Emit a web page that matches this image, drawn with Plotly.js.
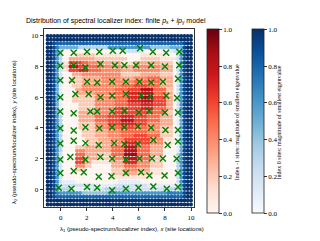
<!DOCTYPE html>
<html><head><meta charset="utf-8">
<script src="https://cdn.plot.ly/plotly-3.0.1.min.js"></script>
<style>html,body{margin:0;padding:0;background:#fff}#chart{width:320px;height:241px}</style>
</head><body><div id="chart"></div>
<script>
// grid coordinates of the localizer sample points (both axes)
const gridCoords = [-1,-0.75,-0.5,-0.25,0,0.25,0.5,0.75,1,1.25,1.5,1.75,2,2.25,2.5,2.75,3,3.25,3.5,3.75,4,4.25,4.5,4.75,5,5.25,5.5,5.75,6,6.25,6.5,6.75,7,7.25,7.5,7.75,8,8.25,8.5,8.75,9,9.25,9.5,9.75,10];
// Rows from y=10 (top) to y=-1 (bottom). Letters A..J: index 0 site, magnitude 0.1..1.0 (Blues).
// Digits 0..9: index -1 site, magnitude 0.0..0.9 (Reds); '.' = index -1, magnitude ~0.
const indexMap = [
 ["JJJJJJJJJJJJJJJJJJJJJJJJJJJJJJJJJJJJJJJJJJJJJ"],
 ["JJJJJJJJJJJJJJJJJJJJJJJJJJJJJJJJJJJJJJJJJJJJJ"],
 ["JJI","HHHHHHHHHH","HHHHHHHHHH","HHHHHHHHHH","HHHHHHHHH","IJJ"],
 ["JJI","G","EEEEEE","CCCCCCCCC","FFFFFFFFFFFFF","DDDDDD","EEEE","IJJ"],
 ["JJI","F","C","...................","BBBBBB","........","A","B","C","E","IJJ"],
 ["JJIFC","....","222222","11111111","......","11111111","...","BFIJJ"],
 ["JJIFC","..","33333333","2222222222","....","222222","11111","BFIJJ"],
 ["JJIFC","11","6666","55","4444","333333","1111","33333333","2222",".","BFIJJ"],
 ["JJIFC","22","888","666","5555","444444","3333","44444444","3333",".","BFIJJ"],
 ["JJIFB","11","666","777","5555","444444","3333","44444444","3333",".","BFIJJ"],
 ["JJIFB","...","333","444444444444","222222","333333","2222",".","BFIJJ"],
 ["JJIFB","...","222","333333","444444","3333","4444","5555","3333",".","BFIJJ"],
 ["JJIFB","..","2222","333333","444444","4444","5555","5555","3333",".","BFIJJ"],
 ["JJIEA","...","222","4444","44444444","5555","6666","5555","3333",".","BFIJJ"],
 ["JJIEA","....","33","4444","444444","5555","6666","8888","5555","22",".","BFIJJ"],
 ["JJIEA","....","333333","444444","5555","7777","8888","5555","33",".","BFIJJ"],
 ["JJIEA","...","2222222","444444","5555","7777","9999","6666","33",".","BFIJJ"],
 ["JJIEA","...","2222222","444444","5555","7777","8888","6666","33",".","BFIJJ"],
 ["JJIEA",".....","22222","444444","5555","6666","7777","6666","33",".","BFIJJ"],
 ["JJIEA",".....","22222","444444","6666","6666","7777","5555","33",".","BFIJJ"],
 ["JJIEA",".....","33333","444444","6666","6666","6666","5555","22",".","BFIJJ"],
 ["JJIFC",".....","33333","5555","6666","7777","6666","5555","3333",".","AEIJJ"],
 ["JJIFC",".....","33333","5555","6666","8888","6666","5555","3333",".","AEIJJ"],
 ["JJIFC",".....","22222","4444","6666","7777","6666","4444","3333",".","AEIJJ"],
 ["JJIFC",".....","22222","4444","5555","6666","5555","4444","2222",".","AEIJJ"],
 ["JJIFC","......","2222","3333","4444","5555","5555","4444","2222",".","AEIJJ"],
 ["JJIFC","......","2222","3333","4444","5555","6666","5555","2222",".","AEIJJ"],
 ["JJIFC",".......","2222","3333","4444","6666","6666","4444","111",".","AEIJJ"],
 ["JJIFC",".......","2222","3333","4444","7777","6666","4444","111",".","AEIJJ"],
 ["JJIFC","....","222","3333","3333","5555","8888","5555","3333","....","AEIJJ"],
 ["JJIFC","....","444","3333","3333","5555","8888","5555","3333","....","AEIJJ"],
 ["JJIFB","....","555","3333","2222","5555","9999","5555","3333","....","CFIJJ"],
 ["JJIFB","....","666","3333","2222","4444","8888","5555","2222","....","CFIJJ"],
 ["JJIFB","....","666","33","111111","3333","7777","4444","2222","....","CFIJJ"],
 ["JJIFB","....","444","22","......","3333","5555","4444","2222","....","CFIJJ"],
 ["JJIFB","....","222","........","2222","4444","3333","1111","....","CFIJJ"],
 ["JJIFB","...............","2222","3333","2222","1111","....","CFIJJ"],
 ["JJIFB","...............","111111111111","........","BFIJJ"],
 ["JJIFB","AAAA",".............","AAAAAAA","...........","BFIJJ"],
 ["JJIFB","BBBBBBBBBB","AAAAAA","BBBBBBBBBB","AAAAAAAAA","BFIJJ"],
 ["JJI","F","CCCC","AAAA","BBBBBB","CCCCCCCC","BBBBBBBBBB","CCCCC","E","IJJ"],
 ["JJI","G","FFFFFFF","DDDDDDDD","FFFFFFFFFFFFFFFFFF","GGGGG","IJJ"],
 ["JJI","HHHHHHHHHH","HHHHHHHHHH","HHHHHHHHHH","HHHHHHHHH","IJJ"],
 ["JJJJJJJJJJJJJJJJJJJJJJJJJJJJJJJJJJJJJJJJJJJJJ"],
 ["JJJJJJJJJJJJJJJJJJJJJJJJJJJJJJJJJJJJJJJJJJJJJ"]
];
// site locations (green crosses)
const siteX = [-0.03,1.0,2.02,2.97,4.0,4.76,6.09,7.07,8.09,9.1,
 -0.03,1.0,1.9,3.05,4.16,4.89,5.78,6.94,8.0,9.1,
 -0.03,0.87,2.02,2.8,3.95,5.0,6.04,6.94,7.84,9.0,
 -0.03,1.13,2.15,3.05,3.95,5.0,6.17,6.9,8.1,8.93,
 -0.03,1.0,2.28,2.8,3.95,4.9,6.0,6.8,8.0,9.0,
 -0.03,1.0,1.9,2.97,3.95,4.89,5.92,6.94,8.04,9.0,
 -0.03,1.0,1.9,2.92,4.1,4.89,5.92,7.11,8.21,9.0,
 -0.03,0.74,1.9,3.05,3.95,5.0,6.04,7.0,7.84,8.9,
 -0.03,1.0,1.77,2.92,3.9,5.0,6.17,6.81,7.97,9.0,
 -0.15,0.82,2.02,2.8,3.95,5.0,5.97,7.11,8.14,9.0];
const siteY = [8.9,8.9,8.97,8.97,9.03,9.03,9.2,8.97,8.9,8.97,
 8.05,8.09,7.94,8.16,8.09,8.09,8.09,8.09,8.0,8.09,
 7.1,7.1,7.0,6.95,7.0,7.0,7.0,6.95,7.0,7.2,
 6.0,6.2,6.2,6.0,6.1,6.2,6.1,6.05,6.1,5.95,
 5.07,4.95,5.07,5.07,5.07,5.1,5.0,5.1,5.0,5.0,
 3.97,3.82,4.04,3.97,4.04,4.04,4.08,4.0,3.86,3.86,
 2.98,3.16,3.0,2.87,3.0,2.94,2.94,3.2,2.87,3.1,
 1.93,2.1,1.93,2.1,1.98,1.93,2.0,2.0,2.0,1.98,
 1.05,1.18,1.1,0.8,0.84,1.05,1.1,0.88,0.88,1.05,
 0.09,0.02,0.13,0.09,-0.08,0.02,0.09,0.17,0.02,0.13];
const axisTicks = [0,2,4,6,8,10];
const cbTicks = [0,0.2,0.4,0.6,0.8,1.0];
const cbTickText = ['0.0','0.2','0.4','0.6','0.8','1.0'];

const redsScale = [[0,'#fff5f0'],[0.125,'#fee0d2'],[0.25,'#fcbba1'],[0.375,'#fc9272'],[0.5,'#fb6a4a'],[0.625,'#ef3b2c'],[0.75,'#cb181d'],[0.875,'#a50f15'],[1,'#67000d']];
const bluesScale = [[0,'#f7fbff'],[0.125,'#deebf7'],[0.25,'#c6dbef'],[0.375,'#9ecae1'],[0.5,'#6baed6'],[0.625,'#4292c6'],[0.75,'#2171b5'],[0.875,'#08519c'],[1,'#08306b']];

const rx=[],ry=[],rv=[],bx=[],by=[],bv=[];
indexMap.forEach((segs,r)=>{
  let row = segs.join('');
  row = (row+'.'.repeat(45)).slice(0,45);
  const y = gridCoords[44-r];
  for(let i=0;i<45;i++){
    const c=row[i], x=gridCoords[i];
    if(c>='A'&&c<='J'){bx.push(x);by.push(y);bv.push((c.charCodeAt(0)-64)/10);}
    else {rx.push(x);ry.push(y);rv.push(c==='.'?0:(c==='#'?1:(+c)/10));}
  }
});

const L=44,T=29,W=150,H=178;
const px=(p)=>(p-L)/W, py=(p)=>(T+H-p)/H;
const serif='Liberation Serif, DejaVu Serif, serif';
const sans='Liberation Sans, DejaVu Sans, sans-serif';

function cb(xpix){return {x:px(xpix),xanchor:'left',xpad:0,y:py(29.3),yanchor:'top',ypad:0,
  lenmode:'pixels',len:184,thickness:12,outlinewidth:0.8,outlinecolor:'#222',
  tickvals:cbTicks,ticktext:cbTickText,ticks:'outside',ticklen:3,tickwidth:0.8,tickcolor:'#000',
  tickfont:{family:serif,size:7,color:'#000'}};}

const mk=4;
const data=[
 {type:'scatter',mode:'markers',x:rx,y:ry,hoverinfo:'skip',
  marker:{size:mk,color:rv,cmin:0,cmax:1,colorscale:redsScale,line:{width:0},colorbar:cb(207)}},
 {type:'scatter',mode:'markers',x:bx,y:by,hoverinfo:'skip',
  marker:{size:mk,color:bv,cmin:0,cmax:1,colorscale:bluesScale,line:{width:0},colorbar:cb(251.7)}},
 {type:'scatter',mode:'markers',x:siteX,y:siteY,hoverinfo:'skip',
  marker:{symbol:'x-thin',size:6,color:'green',line:{color:'green',width:1.4}}}
];
const ax={showgrid:false,zeroline:false,showline:true,mirror:true,linecolor:'#000',linewidth:0.8,
  ticks:'outside',ticklen:3.5,tickwidth:0.8,tickcolor:'#000',tickvals:axisTicks,
  tickfont:{family:serif,size:7,color:'#000'}};
const layout={width:320,height:241,margin:{l:L,r:320-L-W,t:T,b:241-T-H},
  paper_bgcolor:'#fff',plot_bgcolor:'#fff',showlegend:false,
  xaxis:Object.assign({range:[-1.28,10.23]},ax),
  yaxis:Object.assign({range:[-1.17,10.45]},ax),
  annotations:[
   {xref:'paper',yref:'paper',x:px(116),y:py(20.5),xanchor:'center',yanchor:'middle',showarrow:false,
    text:'Distribution of spectral localizer index: finite <i>p</i><sub>x</sub> + <i>ip</i><sub>y</sub> model',
    font:{family:sans,size:7,color:'#000'}},
   {xref:'paper',yref:'paper',x:px(132),y:py(229),xanchor:'center',yanchor:'middle',showarrow:false,
    text:'λ<sub>1</sub> (pseudo-spectrum/localizer index), <i>x</i> (site locations)',
    font:{family:sans,size:6,color:'#000'}},
   {xref:'paper',yref:'paper',x:px(14),y:py(132),xanchor:'center',yanchor:'middle',showarrow:false,textangle:-90,
    text:'λ<sub>2</sub> (pseudo-spectrum/localizer index), <i>y</i> (site locations)',
    font:{family:sans,size:6,color:'#000'}},
   {xref:'paper',yref:'paper',x:px(236.7),y:py(122.5),xanchor:'center',yanchor:'middle',showarrow:false,textangle:-90,
    text:'Index -1 sites: magnitude of smallest eigenvalue',font:{family:serif,size:6,color:'#000'}},
   {xref:'paper',yref:'paper',x:px(278),y:py(122.5),xanchor:'center',yanchor:'middle',showarrow:false,textangle:-90,
    text:'Index 0 sites: magnitude of smallest eigenvalue',font:{family:serif,size:6,color:'#000'}}
  ]};
Plotly.newPlot('chart',data,layout,{displayModeBar:false,staticPlot:true});
</script></body></html>
